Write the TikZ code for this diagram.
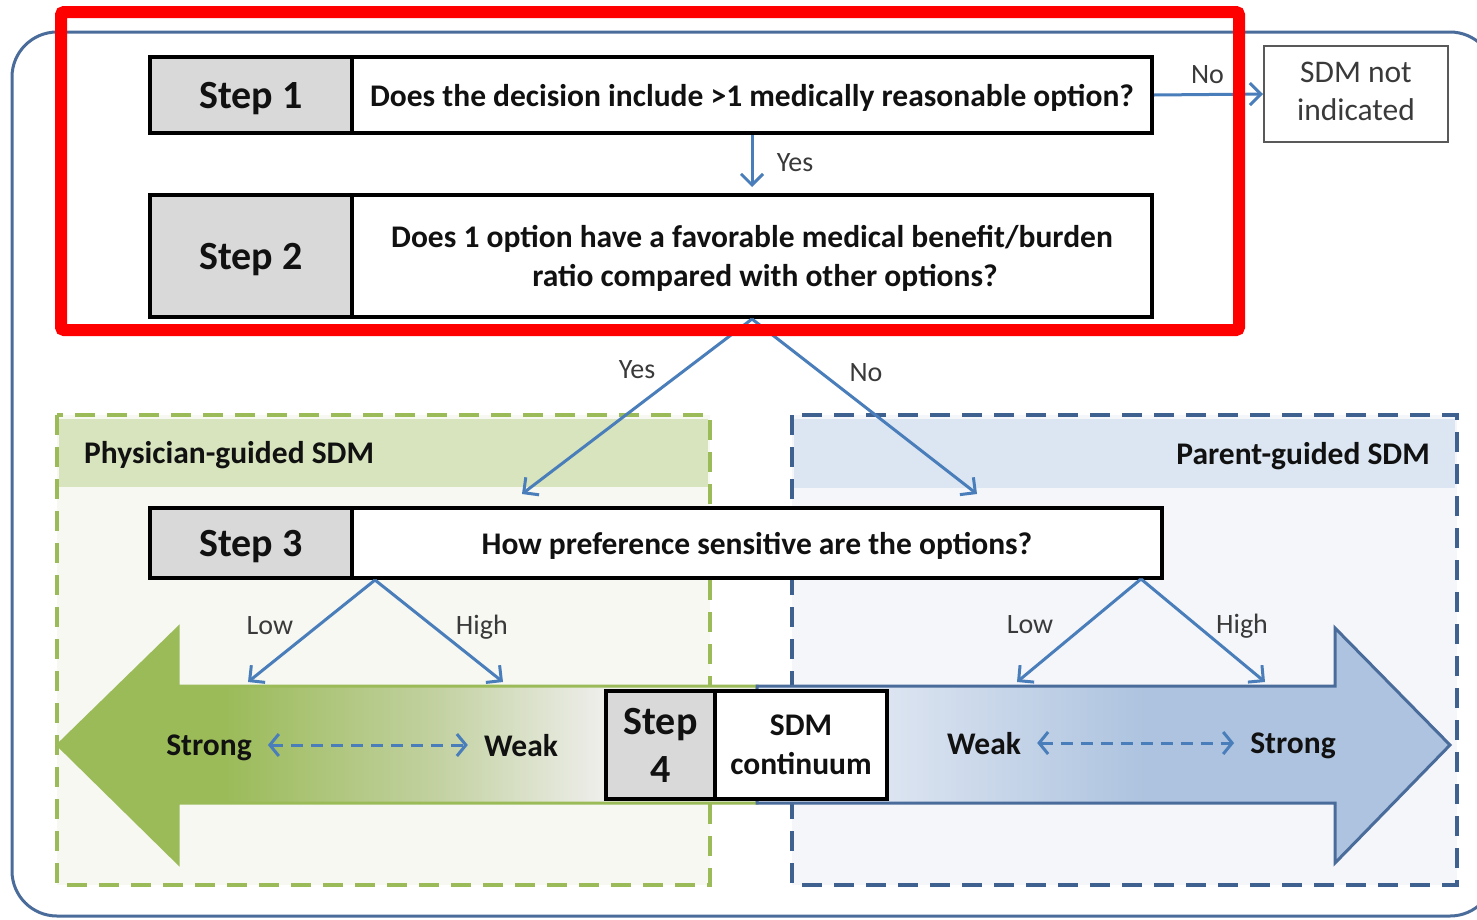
\documentclass[tikz,border=0pt]{standalone}
\usepackage{fontspec}
\setmainfont{Carlito}
\usetikzlibrary{arrows.meta}
\definecolor{conn}{HTML}{4A7EBB}
\definecolor{stepgray}{HTML}{D9D9D9}
\definecolor{outerc}{HTML}{4A6C9B}
\definecolor{ghead}{HTML}{D7E4BD}
\definecolor{gbody}{HTML}{F6F8F1}
\definecolor{gdashc}{HTML}{9BBB59}
\definecolor{bhead}{HTML}{DCE6F2}
\definecolor{bbody}{HTML}{F4F6FA}
\definecolor{bdashc}{HTML}{3E6190}
\definecolor{garr}{HTML}{9BBB59}
\definecolor{gmid}{HTML}{C2D1A0}
\definecolor{glight}{HTML}{EEEEEB}
\definecolor{blight}{HTML}{DDE5F1}
\definecolor{bdark}{HTML}{ADC3DF}
\definecolor{barrline}{HTML}{4A6C9B}
\definecolor{labgray}{HTML}{3A3A3A}
\definecolor{txt}{HTML}{111111}
\definecolor{nigray}{HTML}{595959}
\definecolor{redc}{HTML}{FF0000}
\pgfdeclarehorizontalshading{greenarr}{100bp}{color(0bp)=(garr); color(37bp)=(garr); color(52bp)=(gmid); color(64bp)=(glight); color(100bp)=(glight)}
\pgfdeclarehorizontalshading{bluearr}{100bp}{color(0bp)=(blight); color(34bp)=(blight); color(53bp)=(bdark); color(100bp)=(bdark)}
\tikzset{
  stepbox/.style={draw=black, line width=4pt, fill=stepgray, text=txt, inner sep=0pt, text depth=0pt,
    font=\bfseries\fontsize{40}{48}\selectfont},
  qbox/.style={draw=black, line width=4pt, fill=white, text=txt, inner sep=0pt, align=center, text depth=0pt,
    font=\bfseries\fontsize{31.5}{39}\selectfont},
  nibox/.style={draw=nigray, line width=2pt, fill=white, text=labgray, inner sep=0pt, align=center, text depth=6pt,
    font=\fontsize{31.5}{38}\selectfont},
  lab/.style={font=\fontsize{28}{30}\selectfont, text=labgray, inner sep=0pt, anchor=base},
  hdr/.style={font=\bfseries\fontsize{31.5}{34}\selectfont, text=txt, inner sep=0pt, text depth=0pt},
  sw/.style={font=\bfseries\fontsize{31.5}{34}\selectfont, text=txt, inner xsep=16pt, inner ysep=0pt, text depth=0pt},
  connl/.style={draw=conn, line width=3pt, -{Straight Barb[length=11pt, width=22pt]}},
  dblarr/.style={draw=conn, line width=3pt, dash pattern=on 12pt off 8pt,
    {Straight Barb[length=9pt, width=22pt]}-{Straight Barb[length=9pt, width=22pt]}},
  gdash/.style={draw=gdashc, line width=4pt, dash pattern=on 20pt off 12pt},
  bdash/.style={draw=bdashc, line width=4pt, dash pattern=on 20pt off 12pt},
}
\begin{document}
\begin{tikzpicture}[x=1pt, y=-1pt]
\useasboundingbox (0,0) rectangle (1477,919);
\fill[white] (0,0) rectangle (1477,919);
% outer frame
\draw[outerc, line width=3pt, rounded corners=45pt] (12,32) rectangle (1495,916);
% group boxes
\fill[gbody] (57,415) rectangle (710,885);
\fill[ghead] (59,419) rectangle (708,487);
\draw[gdash] (57,415) rectangle (710,885);
\fill[bbody] (792,415) rectangle (1457,885);
\fill[bhead] (794,419) rectangle (1455,488);
\draw[bdash] (792,415) rectangle (1457,885);
\node[hdr, anchor=west] (hg) at (84,452) {Physician-guided SDM};
\node[hdr, anchor=east] (hb) at (1430,453) {Parent-guided SDM};
% big arrows
\shadedraw[shading=greenarr, draw=garr, line width=3pt, line join=miter]
  (58,745) -- (178,628) -- (178,686) -- (757,686) -- (757,803) -- (178,803) -- (178,863) -- cycle;
\shadedraw[shading=bluearr, draw=barrline, line width=3pt, line join=miter]
  (1450,745) -- (1335,628) -- (1335,686) -- (757,686) -- (757,803) -- (1335,803) -- (1335,863) -- cycle;
% step boxes
\node[stepbox, minimum width=202pt, minimum height=76pt] (s1) at (251,95) {Step 1};
\node[qbox, minimum width=800pt, minimum height=76pt] (q1) at (752,95) {Does the decision include >1 medically reasonable option?};
\node[stepbox, minimum width=202pt, minimum height=122pt] (s2) at (251,256) {Step 2};
\node[qbox, minimum width=800pt, minimum height=122pt] (q2) at (752,256) {Does 1 option have a favorable medical benefit/burden\\\hspace*{26pt}ratio compared with other options?};
\node[nibox, minimum width=184pt, minimum height=96pt] (ni) at (1356,94) {SDM not\\indicated};
\node[stepbox, minimum width=202pt, minimum height=70pt] (s3) at (251,543) {Step 3};
\node[qbox, minimum width=810pt, minimum height=70pt] (q3) at (757,543) {How preference sensitive are the options?};
\node[stepbox, align=center, minimum width=109pt, minimum height=108pt] (s4) at (660.5,745) {Step\\4};
\node[qbox, minimum width=172pt, minimum height=108pt] (q4) at (801,745) {SDM\\continuum};
% coordinates
\coordinate (yesend) at (522,494);
\coordinate (noend) at (977,494);
\coordinate (a3l) at ([xshift=25pt]q3.south west);
\coordinate (a3r) at (1141,579);
\coordinate (lowL) at (248,682);
\coordinate (highL) at (503,682);
\coordinate (lowR) at (1017,682);
\coordinate (highR) at (1265,682);
% connectors
\draw[connl] (q1.east) -- (ni.west) node[lab, midway, xshift=-1pt, yshift=11.5pt] {No};
\draw[connl, shorten >=6pt] (q1.south) -- (q2.north) node[lab, midway, xshift=43pt, yshift=-7pt] {Yes};
\draw[connl] (q2.south) -- (yesend) node[lab, pos=0.28, xshift=-50.6pt, yshift=-10.4pt] {Yes};
\draw[connl] (q2.south) -- (noend) node[lab, pos=0.3, xshift=46.5pt, yshift=-9.9pt] {No};
\draw[connl] (a3l) -- (lowL) node[lab, pos=0.43, xshift=-50.5pt, yshift=-10.3pt] {Low};
\draw[connl] (a3l) -- (highL) node[lab, pos=0.43, xshift=51.8pt, yshift=-10.3pt] {High};
\draw[connl] (a3r) -- (lowR) node[lab, pos=0.43, xshift=-57.7pt, yshift=-10.3pt] {Low};
\draw[connl] (a3r) -- (highR) node[lab, pos=0.43, xshift=47.7pt, yshift=-10.3pt] {High};
% strong/weak
\node[sw] (gstr) at (209,745) {Strong};
\node[sw] (gwk) at (521,745) {Weak};
\draw[dblarr] (gstr.east) -- (gwk.west);
\node[sw] (bwk) at (984,743) {Weak};
\node[sw] (bstr) at (1293,743) {Strong};
\draw[dblarr] (bwk.east) -- (bstr.west);
% red highlight
\draw[redc, line width=12pt, rounded corners=3pt] (61,12) rectangle (1239,330);
\end{tikzpicture}
\end{document}
